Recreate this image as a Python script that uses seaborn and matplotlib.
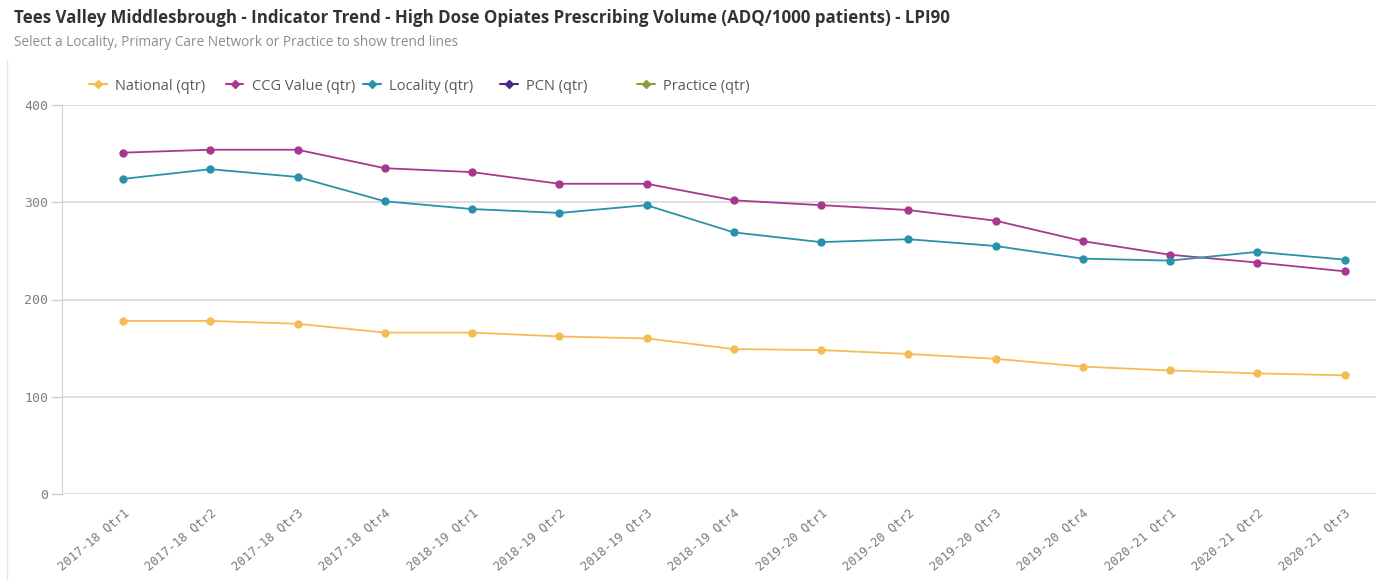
import pandas as pd
import matplotlib.pyplot as plt
import seaborn as sns
from matplotlib.lines import Line2D

# quarters shown on the x axis
quarters = ['2017-18 Qtr1', '2017-18 Qtr2', '2017-18 Qtr3', '2017-18 Qtr4',
            '2018-19 Qtr1', '2018-19 Qtr2', '2018-19 Qtr3', '2018-19 Qtr4',
            '2019-20 Qtr1', '2019-20 Qtr2', '2019-20 Qtr3', '2019-20 Qtr4',
            '2020-21 Qtr1', '2020-21 Qtr2', '2020-21 Qtr3']

# values (ADQ/1000 patients)
national = [178, 178, 175, 166, 166, 162, 160, 149, 148, 144, 139, 131, 127, 124, 122]
ccg = [351, 354, 354, 335, 331, 319, 319, 302, 297, 292, 281, 260, 246, 238, 229]
locality = [324, 334, 326, 301, 293, 289, 297, 269, 259, 262, 255, 242, 240, 249, 241]

series_names = ['National (qtr)', 'CCG Value (qtr)', 'Locality (qtr)', 'PCN (qtr)', 'Practice (qtr)']
series_colors = ['#f5bb55', '#a8388f', '#2a91ab', '#4a2b8a', '#8c9e3a']
y_ticks = [0, 100, 200, 300, 400]

df = pd.DataFrame({
    'quarter': quarters * 3,
    'idx': list(range(len(quarters))) * 3,
    'value': national + ccg + locality,
    'series': [series_names[0]] * 15 + [series_names[1]] * 15 + [series_names[2]] * 15,
})

sns.set_style('white')
plt.rcParams['font.family'] = ['Open Sans', 'DejaVu Sans']

fig = plt.figure(figsize=(13.76, 5.81), dpi=100)
ax = fig.add_axes([62 / 1376, 1 - 494 / 581, 1 - 62 / 1376, 389 / 581])

palette = dict(zip(series_names[:3], series_colors[:3]))
sns.lineplot(data=df, x='idx', y='value', hue='series', palette=palette,
             marker='o', markersize=6, markeredgewidth=0, linewidth=1.3,
             legend=False, ax=ax)

ax.set_xlim(-0.7, 14.36)
ax.set_ylim(0, 400)
ax.set_yticks(y_ticks)
ax.set_yticklabels([str(v) for v in y_ticks], family='DejaVu Sans Mono',
                   fontsize=9.5, color='#808080')
ax.set_xticks(range(len(quarters)))
ax.set_xticklabels(quarters, rotation=40, ha='right', rotation_mode='anchor',
                   family='DejaVu Sans Mono', fontsize=8.8, color='#7a7a7a')
ax.tick_params(axis='x', length=0, pad=9)
ax.tick_params(axis='y', length=8, width=1, color='#d0d0d0', pad=2, left=True)
ax.yaxis.grid(True, color='#d9d9d9', linewidth=1.2)
ax.set_axisbelow(True)
for side in ['top', 'right', 'bottom']:
    ax.spines[side].set_visible(False)
ax.spines['left'].set_color('#d0d0d0')
ax.set_xlabel('')
ax.set_ylabel('')

# title and subtitle
fig.text(14 / 1376, 1 - 18 / 581,
         'Tees Valley Middlesbrough - Indicator Trend - High Dose Opiates Prescribing Volume (ADQ/1000 patients) - LPI90',
         fontsize=12.2, fontweight='bold', color='#333333', va='center', ha='left')
fig.text(14 / 1376, 1 - 43 / 581,
         'Select a Locality, Primary Care Network or Practice to show trend lines',
         fontsize=9.8, color='#8c8c8c', va='center', ha='left')

# legend: one slot per series, evenly spaced like the original
for i, (name, color) in enumerate(zip(series_names, series_colors)):
    h = Line2D([0], [0], color=color, marker='D', markersize=4, linewidth=1.5)
    leg = fig.legend([h], [name], loc='center left',
                     bbox_to_anchor=((89 + 137 * i) / 1376, 1 - 86 / 581),
                     frameon=False, fontsize=10.5, handlelength=1.2,
                     handletextpad=0.6, borderpad=0, borderaxespad=0)
    for t in leg.get_texts():
        t.set_color('#595959')

# thin panel border on the left
fig.add_artist(Line2D([7 / 1376, 7 / 1376], [0, 1 - 60 / 581],
                      color='#e6e6e6', linewidth=1))

fig.savefig('out.png', dpi=100)
